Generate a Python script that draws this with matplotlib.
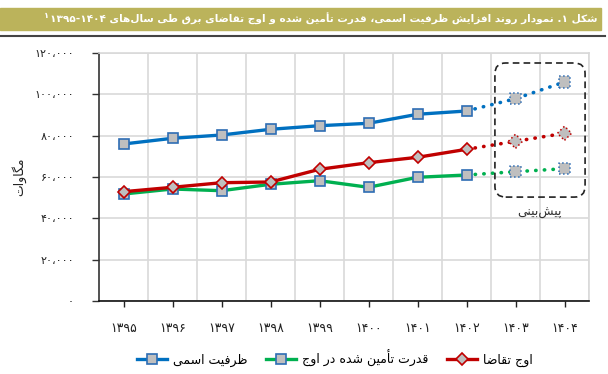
import re
import matplotlib.pyplot as plt
import matplotlib.patches as mpatches
from matplotlib.lines import Line2D
from matplotlib.ticker import FixedLocator

# Arabic shaping: (isolated, final, initial, medial) or (isolated, final)
FORMS = {
    '\u0627': ('\uFE8D', '\uFE8E'),
    '\u0623': ('\uFE83', '\uFE84'),
    '\u0628': ('\uFE8F', '\uFE90', '\uFE91', '\uFE92'),
    '\u062A': ('\uFE95', '\uFE96', '\uFE97', '\uFE98'),
    '\u062C': ('\uFE9D', '\uFE9E', '\uFE9F', '\uFEA0'),
    '\u062F': ('\uFEA9', '\uFEAA'),
    '\u0631': ('\uFEAD', '\uFEAE'),
    '\u0632': ('\uFEAF', '\uFEB0'),
    '\u0633': ('\uFEB1', '\uFEB2', '\uFEB3', '\uFEB4'),
    '\u0634': ('\uFEB5', '\uFEB6', '\uFEB7', '\uFEB8'),
    '\u0636': ('\uFEBD', '\uFEBE', '\uFEBF', '\uFEC0'),
    '\u0637': ('\uFEC1', '\uFEC2', '\uFEC3', '\uFEC4'),
    '\u0638': ('\uFEC5', '\uFEC6', '\uFEC7', '\uFEC8'),
    '\u0641': ('\uFED1', '\uFED2', '\uFED3', '\uFED4'),
    '\u0642': ('\uFED5', '\uFED6', '\uFED7', '\uFED8'),
    '\u0644': ('\uFEDD', '\uFEDE', '\uFEDF', '\uFEE0'),
    '\u0645': ('\uFEE1', '\uFEE2', '\uFEE3', '\uFEE4'),
    '\u0646': ('\uFEE5', '\uFEE6', '\uFEE7', '\uFEE8'),
    '\u0647': ('\uFEE9', '\uFEEA', '\uFEEB', '\uFEEC'),
    '\u0648': ('\uFEED', '\uFEEE'),
    '\u067E': ('\uFB56', '\uFB57', '\uFB58', '\uFB59'),
    '\u06A9': ('\uFB8E', '\uFB8F', '\uFB90', '\uFB91'),
    '\u06AF': ('\uFB92', '\uFB93', '\uFB94', '\uFB95'),
    '\u06CC': ('\uFBFC', '\uFBFD', '\uFBFE', '\uFBFF'),
}


def fa(text):
    # shape letters and put them in visual (left-to-right) order
    out = []
    for i, c in enumerate(text):
        if c not in FORMS:
            if c != '\u200c':
                out.append(c)
            continue
        f = FORMS[c]
        prev = text[i - 1] if i > 0 else ''
        nxt = text[i + 1] if i + 1 < len(text) else ''
        jp = prev in FORMS and len(FORMS[prev]) == 4
        jn = len(f) == 4 and nxt in FORMS
        if jp and jn:
            out.append(f[3])
        elif jp:
            out.append(f[1])
        elif jn:
            out.append(f[2])
        else:
            out.append(f[0])
    s = ''.join(out)
    parts = re.findall(r'[0-9۰-۹]+(?:[-.،][0-9۰-۹]+)*|.', s)
    return ''.join(reversed(parts))


# data (MW)
years = ['۱۳۹۵', '۱۳۹۶', '۱۳۹۷', '۱۳۹۸', '۱۳۹۹', '۱۴۰۰', '۱۴۰۱', '۱۴۰۲', '۱۴۰۳', '۱۴۰۴']
nominal = [75970, 78730, 80320, 83080, 84820, 85980, 90350, 91940, 97900, 105970]
supplied = [51770, 54190, 53370, 56470, 58210, 55020, 59860, 60970, 62570, 64020]
demand = [52890, 55020, 57240, 57580, 63730, 66920, 69530, 73400, 77270, 81150]
yticks = [0, 20000, 40000, 60000, 80000, 100000, 120000]
ytick_labels = ['۰', '۲۰،۰۰۰', '۴۰،۰۰۰', '۶۰،۰۰۰', '۸۰،۰۰۰', '۱۰۰،۰۰۰', '۱۲۰،۰۰۰']
labels = ['ظرفیت اسمی', 'قدرت تأمین شده در اوج', 'اوج تقاضا']
title = 'شکل ۱. نمودار روند افزایش ظرفیت اسمی، قدرت تأمین شده و اوج تقاضای برق طی سال‌های ۱۳۹۵-۱۴۰۴'
forecast_label = 'پیش‌بینی'
ylabel = 'مگاوات'

plt.rcParams['font.family'] = ['DejaVu Sans']

fig = plt.figure(figsize=(6.08, 3.74), dpi=100)
ax = fig.add_axes([99 / 608, 1 - 301 / 374, 490 / 608, 248 / 374])

x = list(range(len(years)))
n_act = 8  # 1395..1402 actual, rest forecast
gray = '#BFBFBF'
series = [
    (nominal, '#0070C0', 's', '#2E6DB4'),
    (supplied, '#00B050', 's', '#2E6DB4'),
    (demand, '#C00000', 'D', '#C00000'),
]
handles = []
for vals, col, mk, ec in series:
    ms = 6.8 if mk == 's' else 6
    ax.plot(x[:n_act], vals[:n_act], color=col, lw=2.4, marker=mk, ms=ms,
            mfc=gray, mec=ec, mew=1.2, zorder=3)
    ax.plot(x[n_act - 1:], vals[n_act - 1:], color=col, lw=2.6,
            linestyle=(0, (0.1, 2.3)), dash_capstyle='round', zorder=2)
    ax.scatter(x[n_act:], vals[n_act:], marker=mk, s=(ms + 1.2) ** 2, c=gray,
               edgecolors=ec, linewidths=1.1, linestyle=':', zorder=4)
    handles.append(Line2D([], [], color=col, lw=2.4, marker=mk, ms=ms,
                          mfc=gray, mec=ec, mew=1.2))

ax.set_xlim(-0.5, len(years) - 0.5)
ax.set_ylim(0, 120000)
ax.xaxis.set_major_locator(FixedLocator(x))
ax.xaxis.set_minor_locator(FixedLocator([i + 0.5 for i in x]))
ax.set_xticklabels(years, fontsize=9, color='#222222')
ax.set_yticks(yticks)
ax.set_yticklabels(ytick_labels, fontsize=8, color='#222222')
ax.tick_params(axis='x', which='major', length=4, width=1, pad=11, color='#222222')
ax.tick_params(axis='x', which='minor', length=0)
ax.tick_params(axis='y', length=5, width=1, pad=13, color='#333333')
ax.grid(True, which='minor', axis='x', color='#D9D9D9', lw=1.2)
ax.grid(True, which='major', axis='y', color='#D9D9D9', lw=1.2)
ax.set_axisbelow(True)
for s in ['top', 'right']:
    ax.spines[s].set_color('#D9D9D9')
    ax.spines[s].set_linewidth(1.2)
ax.spines['left'].set_color('#333333')
ax.spines['left'].set_linewidth(1.2)
ax.spines['bottom'].set_color('#111111')
ax.spines['bottom'].set_linewidth(1.2)

# forecast box
box = mpatches.FancyBboxPatch((0.808, 0.419), 0.992 - 0.808, 0.9597 - 0.419,
                              boxstyle='round,pad=0,rounding_size=0.022',
                              mutation_aspect=490 / 248, transform=ax.transAxes,
                              fill=False, ec='#222222', lw=1.2,
                              linestyle=(0, (4, 2.5)), clip_on=False, zorder=5)
ax.add_patch(box)
ax.text(8.5, 43000, fa(forecast_label), ha='center', va='center', fontsize=9,
        color='#333333')

fig.text(19 / 608, 1 - 177 / 374, fa(ylabel), rotation=90, ha='center',
         va='center', fontsize=9, color='#222222')

# title bar
fig.patches.append(mpatches.Rectangle((0, 1 - 30 / 374), 601 / 608, 22 / 374,
                                      transform=fig.transFigure, color='#BBB35B',
                                      zorder=0))
fig.add_artist(Line2D([0, 605 / 608], [1 - 36 / 374, 1 - 36 / 374],
                      transform=fig.transFigure, color='#444444', lw=1.5))
t = fig.text(597 / 608, 1 - 19 / 374, fa(title), ha='right', va='center',
             fontsize=9.5, color='white', fontweight='bold')
fig.canvas.draw()
w = t.get_window_extent().width
t.set_fontsize(9.5 * 548 / w)
fig.canvas.draw()
bb = t.get_window_extent()
fig.text((bb.x0 - 1) / 608, 1 - 15 / 374, '۱', ha='right', va='center',
         fontsize=6, color='white', fontweight='bold')

fig.legend(handles, [fa(l) for l in labels], loc='center',
           bbox_to_anchor=(335 / 608, 1 - 358 / 374), ncol=3, frameon=False,
           fontsize=9, handlelength=2.4, columnspacing=1.45, handletextpad=0.5,
           numpoints=1)

fig.savefig('out.png', dpi=100)
